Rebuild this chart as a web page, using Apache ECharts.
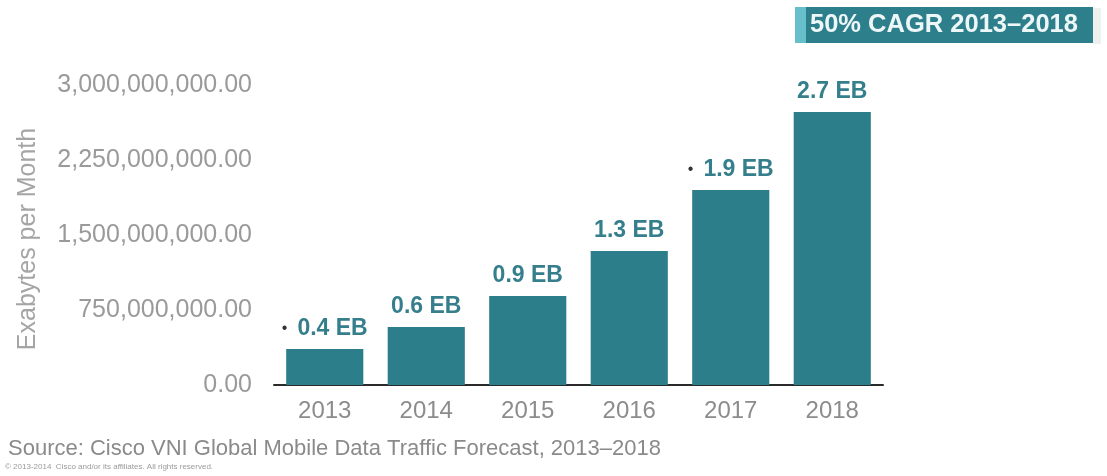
<!DOCTYPE html>
<html>
<head>
<meta charset="utf-8">
<script src="https://cdn.jsdelivr.net/npm/echarts@6/dist/echarts.min.js"></script>
<style>
html,body{margin:0;padding:0;background:#fff;}
#chart{width:1107px;height:476px;}
</style>
</head>
<body>
<div id="chart"></div>
<script>
const categories = ['2013', '2014', '2015', '2016', '2017', '2018'];
const trafficValues = [360000000, 580000000, 890000000, 1340000000, 1950000000, 2730000000];
const labelTexts = ['0.4 EB', '0.6 EB', '0.9 EB', '1.3 EB', '1.9 EB', '2.7 EB'];
const bulleted = [true, false, false, false, true, false];
const yTicks = { min: 0, max: 3000000000, interval: 750000000 };
const titleBadge = '50% CAGR 2013\u20132018';
const sourceText = 'Source: Cisco VNI Global Mobile Data Traffic Forecast, 2013\u20132018';
const copyrightText = '\u00a9 2013-2014  Cisco and/or its affiliates. All rights reserved.';
const axisName = 'Exabytes per Month';

const fontFam = '"Liberation Sans", Helvetica, Arial, sans-serif';
const chart = echarts.init(document.getElementById('chart'));

function fmt(v) {
  return Number(v).toLocaleString('en-US', { minimumFractionDigits: 2, maximumFractionDigits: 2 });
}

chart.setOption({
  backgroundColor: '#ffffff',
  animation: false,
  grid: { left: 274, right: 224, top: 85, bottom: 91 },
  xAxis: {
    type: 'category',
    data: categories,
    axisLine: { show: true, lineStyle: { color: '#2a2a2a', width: 2 } },
    axisTick: { show: false },
    axisLabel: { color: '#8c8c8c', fontSize: 24, fontFamily: fontFam, margin: 14 }
  },
  yAxis: {
    type: 'value',
    min: yTicks.min,
    max: yTicks.max,
    interval: yTicks.interval,
    name: axisName,
    nameLocation: 'middle',
    nameGap: 233,
    nameRotate: 90,
    nameTextStyle: { color: '#a5a5a5', fontSize: 25, fontFamily: fontFam, padding: [0, 8, 0, 0] },
    axisLine: { show: false },
    axisTick: { show: false },
    splitLine: { show: false },
    axisLabel: { color: '#9a9a9a', fontSize: 25, fontFamily: fontFam, margin: 22, formatter: fmt }
  },
  series: [{
    type: 'bar',
    data: trafficValues,
    barCategoryGap: '24%',
    itemStyle: { color: '#2c7e8a' },
    label: {
      show: true,
      position: 'top',
      distance: 9,
      formatter: function (p) {
        const t = labelTexts[p.dataIndex];
        return bulleted[p.dataIndex] ? '{dot|\u2022}   {v|' + t + '}' : '{v|' + t + '}';
      },
      rich: {
        v: { color: '#357f8c', fontSize: 23, fontWeight: 'bold', fontFamily: fontFam },
        dot: { color: '#333333', fontSize: 16, fontFamily: fontFam }
      }
    }
  }],
  graphic: [
    { type: 'rect', shape: { x: 1093, y: 8, width: 8, height: 36 }, style: { fill: '#eef0f0' }, z: 1 },
    { type: 'rect', shape: { x: 795, y: 7, width: 298, height: 36 }, style: { fill: '#2e7f8c' }, z: 2 },
    { type: 'rect', shape: { x: 795, y: 7, width: 11, height: 36 }, style: { fill: '#67bfcb' }, z: 3 },
    { type: 'text', x: 810, y: 25, style: { text: titleBadge, fill: '#eef7f8', font: 'bold 25.5px ' + fontFam, textVerticalAlign: 'middle' }, z: 4 },
    { type: 'text', x: 8, y: 449, style: { text: sourceText, fill: '#8a8a8a', font: '22px ' + fontFam, textVerticalAlign: 'middle' } },
    { type: 'text', x: 5, y: 467, style: { text: copyrightText, fill: '#9a9a9a', font: '8px ' + fontFam, textVerticalAlign: 'middle' } }
  ]
});
</script>
</body>
</html>
